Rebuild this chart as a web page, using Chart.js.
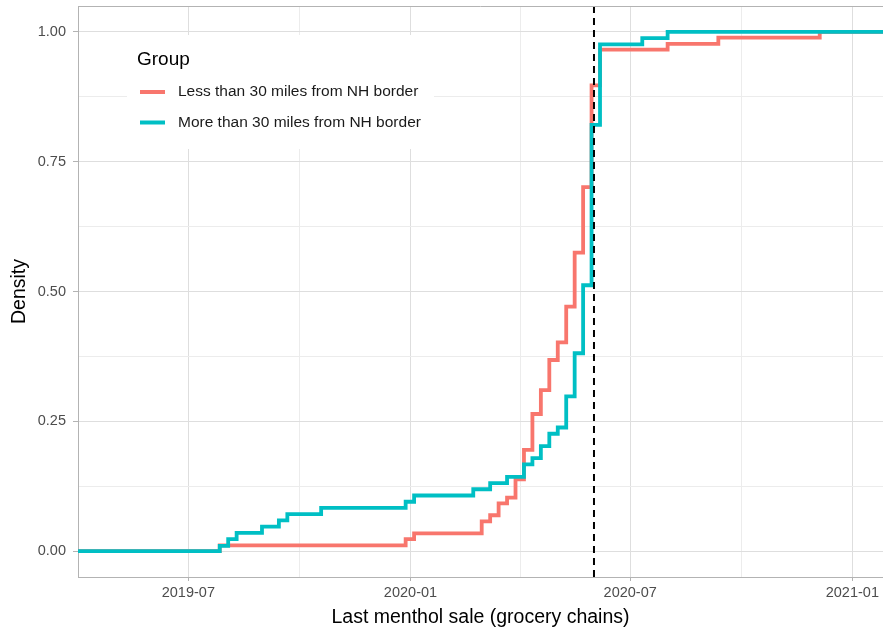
<!DOCTYPE html>
<html>
<head>
<meta charset="utf-8">
<script src="https://cdn.jsdelivr.net/npm/chart.js@4.4.1/dist/chart.umd.min.js"></script>
<style>
  html, body { margin: 0; padding: 0; background: #fff; }
  #wrap { position: relative; width: 883px; height: 633px; }
</style>
</head>
<body>
<div id="wrap"><canvas id="ecdfChart"></canvas></div>
<script>
// weekly dates of last menthol sale and the ECDF value reached at each one
const lessDates = ['2019-07-27', '2019-12-28', '2020-01-04', '2020-02-29', '2020-03-07', '2020-03-14',
  '2020-03-21', '2020-03-28', '2020-04-04', '2020-04-11', '2020-04-18', '2020-04-25', '2020-05-02',
  '2020-05-09', '2020-05-16', '2020-05-23', '2020-05-30', '2020-06-06', '2020-08-01', '2020-09-12',
  '2020-12-05'];
const lessValues = [0.011, 0.023, 0.034, 0.057, 0.069, 0.092, 0.103, 0.138, 0.195, 0.264, 0.310,
  0.368, 0.402, 0.471, 0.575, 0.701, 0.897, 0.966, 0.977, 0.989, 1.0];

const moreDates = ['2019-07-27', '2019-08-03', '2019-08-10', '2019-08-31', '2019-09-14', '2019-09-21',
  '2019-10-19', '2019-12-28', '2020-01-04', '2020-02-22', '2020-03-07', '2020-03-21', '2020-04-04',
  '2020-04-11', '2020-04-18', '2020-04-25', '2020-05-02', '2020-05-09', '2020-05-16', '2020-05-23',
  '2020-05-30', '2020-06-06', '2020-07-11', '2020-08-01'];
const moreValues = [0.010, 0.023, 0.035, 0.047, 0.059, 0.071, 0.083, 0.095, 0.107, 0.119, 0.131,
  0.143, 0.167, 0.179, 0.202, 0.226, 0.238, 0.298, 0.381, 0.512, 0.821, 0.976, 0.988, 1.0];

const groupNames = ['Less than 30 miles from NH border', 'More than 30 miles from NH border'];
const banDate = '2020-06-01';

const xTickLabels = ['2019-07', '2020-01', '2020-07', '2021-01'];
const xMinorTicks = ['2019-04', '2019-10', '2020-04', '2020-10'];
const yTickValues = [0, 0.25, 0.5, 0.75, 1];
const yMinorValues = [0.125, 0.375, 0.625, 0.875];

const RED = '#F8766D';
const CYAN = '#00BFC4';
const FONT = "'Liberation Sans', Arial, Helvetica, sans-serif";

// day number from 'YYYY-MM' or 'YYYY-MM-DD'
function dayOf(s) {
  const p = s.split('-').map(Number);
  return Date.UTC(p[0], p[1] - 1, p[2] || 1) / 86400000;
}

const origin = dayOf('2019-07-01');
const xMin = origin - 91.4;
const xMax = origin + 575.4;
const yMin = -0.05;
const yMax = 1.05;

const majorX = xTickLabels.map(dayOf);
const minorX = xMinorTicks.map(dayOf);

// stat_ecdf style: pad with 0 on the left and 1 on the right
function ecdfPoints(dates, values) {
  const pts = [{ x: xMin, y: 0 }];
  dates.forEach((d, i) => pts.push({ x: dayOf(d), y: values[i] }));
  pts.push({ x: xMax, y: 1 });
  return pts;
}

const insideLegend = {
  id: 'insideLegend',
  beforeDatasetsDraw(chart) {
    const ctx = chart.ctx;
    ctx.save();
    ctx.fillStyle = '#ffffff';
    ctx.fillRect(127, 35, 307, 114);

    ctx.fillStyle = '#000000';
    ctx.font = '19px ' + FONT;
    ctx.textAlign = 'left';
    ctx.textBaseline = 'alphabetic';
    ctx.fillText('Group', 137, 64.5);

    const colors = [RED, CYAN];
    const rows = [92, 122.5];
    ctx.font = '15.5px ' + FONT;
    ctx.textBaseline = 'middle';
    groupNames.forEach((name, i) => {
      ctx.strokeStyle = colors[i];
      ctx.lineWidth = 4;
      ctx.beginPath();
      ctx.moveTo(140, rows[i]);
      ctx.lineTo(165, rows[i]);
      ctx.stroke();
      ctx.fillStyle = '#1a1a1a';
      ctx.fillText(name, 178, rows[i]);
    });
    ctx.restore();
  },
  afterDraw(chart) {
    // top edge of the panel border
    const { ctx, chartArea } = chart;
    ctx.save();
    ctx.strokeStyle = '#b3b3b3';
    ctx.lineWidth = 1;
    ctx.beginPath();
    ctx.moveTo(chartArea.left, chartArea.top + 0.5);
    ctx.lineTo(chartArea.right, chartArea.top + 0.5);
    ctx.stroke();
    ctx.restore();
  }
};

const isMajorX = v => majorX.some(m => Math.abs(m - v) < 0.01);
const isMajorY = v => yTickValues.some(m => Math.abs(m - v) < 1e-6);

const ctx = document.getElementById('ecdfChart').getContext('2d');
new Chart(ctx, {
  type: 'line',
  data: {
    datasets: [
      {
        label: 'ban',
        data: [{ x: dayOf(banDate), y: yMin }, { x: dayOf(banDate), y: yMax }],
        borderColor: '#000000',
        borderWidth: 2,
        borderDash: [7, 5],
        pointRadius: 0,
        order: 0
      },
      {
        label: groupNames[1],
        data: ecdfPoints(moreDates, moreValues),
        borderColor: CYAN,
        borderWidth: 3.8,
        stepped: true,
        pointRadius: 0,
        order: 1
      },
      {
        label: groupNames[0],
        data: ecdfPoints(lessDates, lessValues),
        borderColor: RED,
        borderWidth: 3.8,
        stepped: true,
        pointRadius: 0,
        order: 2
      }
    ]
  },
  options: {
    responsive: true,
    maintainAspectRatio: false,
    animation: false,
    layout: { padding: { top: 6, right: 0, left: 0, bottom: 0 } },
    plugins: {
      legend: { display: false },
      tooltip: { enabled: false }
    },
    scales: {
      x: {
        type: 'linear',
        min: xMin,
        max: xMax,
        afterFit(scale) {
          scale.height = 56;
          scale.paddingLeft = 0;
          scale.paddingRight = 0;
        },
        afterBuildTicks(scale) {
          scale.ticks = majorX.concat(minorX).sort((a, b) => a - b).map(v => ({ value: v }));
        },
        grid: {
          color: c => isMajorX(c.tick.value) ? '#dedede' : '#ececec',
          lineWidth: 1,
          tickColor: c => isMajorX(c.tick.value) ? '#b3b3b3' : 'rgba(0,0,0,0)',
          tickLength: 4
        },
        border: { color: '#b3b3b3', width: 1 },
        ticks: {
          autoSkip: false,
          maxRotation: 0,
          color: '#4d4d4d',
          padding: 3,
          font: { family: FONT, size: 14.5 },
          callback: v => {
            const i = majorX.findIndex(m => Math.abs(m - v) < 0.01);
            return i >= 0 ? xTickLabels[i] : '';
          }
        },
        title: {
          display: true,
          text: 'Last menthol sale (grocery chains)',
          color: '#000000',
          font: { family: FONT, size: 19.5 },
          padding: { top: 0, bottom: 4 }
        }
      },
      y: {
        min: yMin,
        max: yMax,
        afterFit(scale) {
          scale.width = 78;
          scale.paddingTop = 0;
          scale.paddingBottom = 0;
        },
        afterBuildTicks(scale) {
          scale.ticks = yTickValues.concat(yMinorValues).sort((a, b) => a - b).map(v => ({ value: v }));
        },
        grid: {
          color: c => isMajorY(c.tick.value) ? '#dedede' : '#ececec',
          lineWidth: 1,
          tickColor: c => isMajorY(c.tick.value) ? '#b3b3b3' : 'rgba(0,0,0,0)',
          tickLength: 5
        },
        border: { color: '#b3b3b3', width: 1 },
        ticks: {
          autoSkip: false,
          color: '#4d4d4d',
          padding: 7,
          font: { family: FONT, size: 14.5 },
          callback: v => isMajorY(v) ? v.toFixed(2) : ''
        },
        title: {
          display: true,
          text: 'Density',
          color: '#000000',
          font: { family: FONT, size: 19.5 },
          padding: { top: 8, bottom: 0 }
        }
      }
    }
  },
  plugins: [insideLegend]
});
</script>
</body>
</html>
